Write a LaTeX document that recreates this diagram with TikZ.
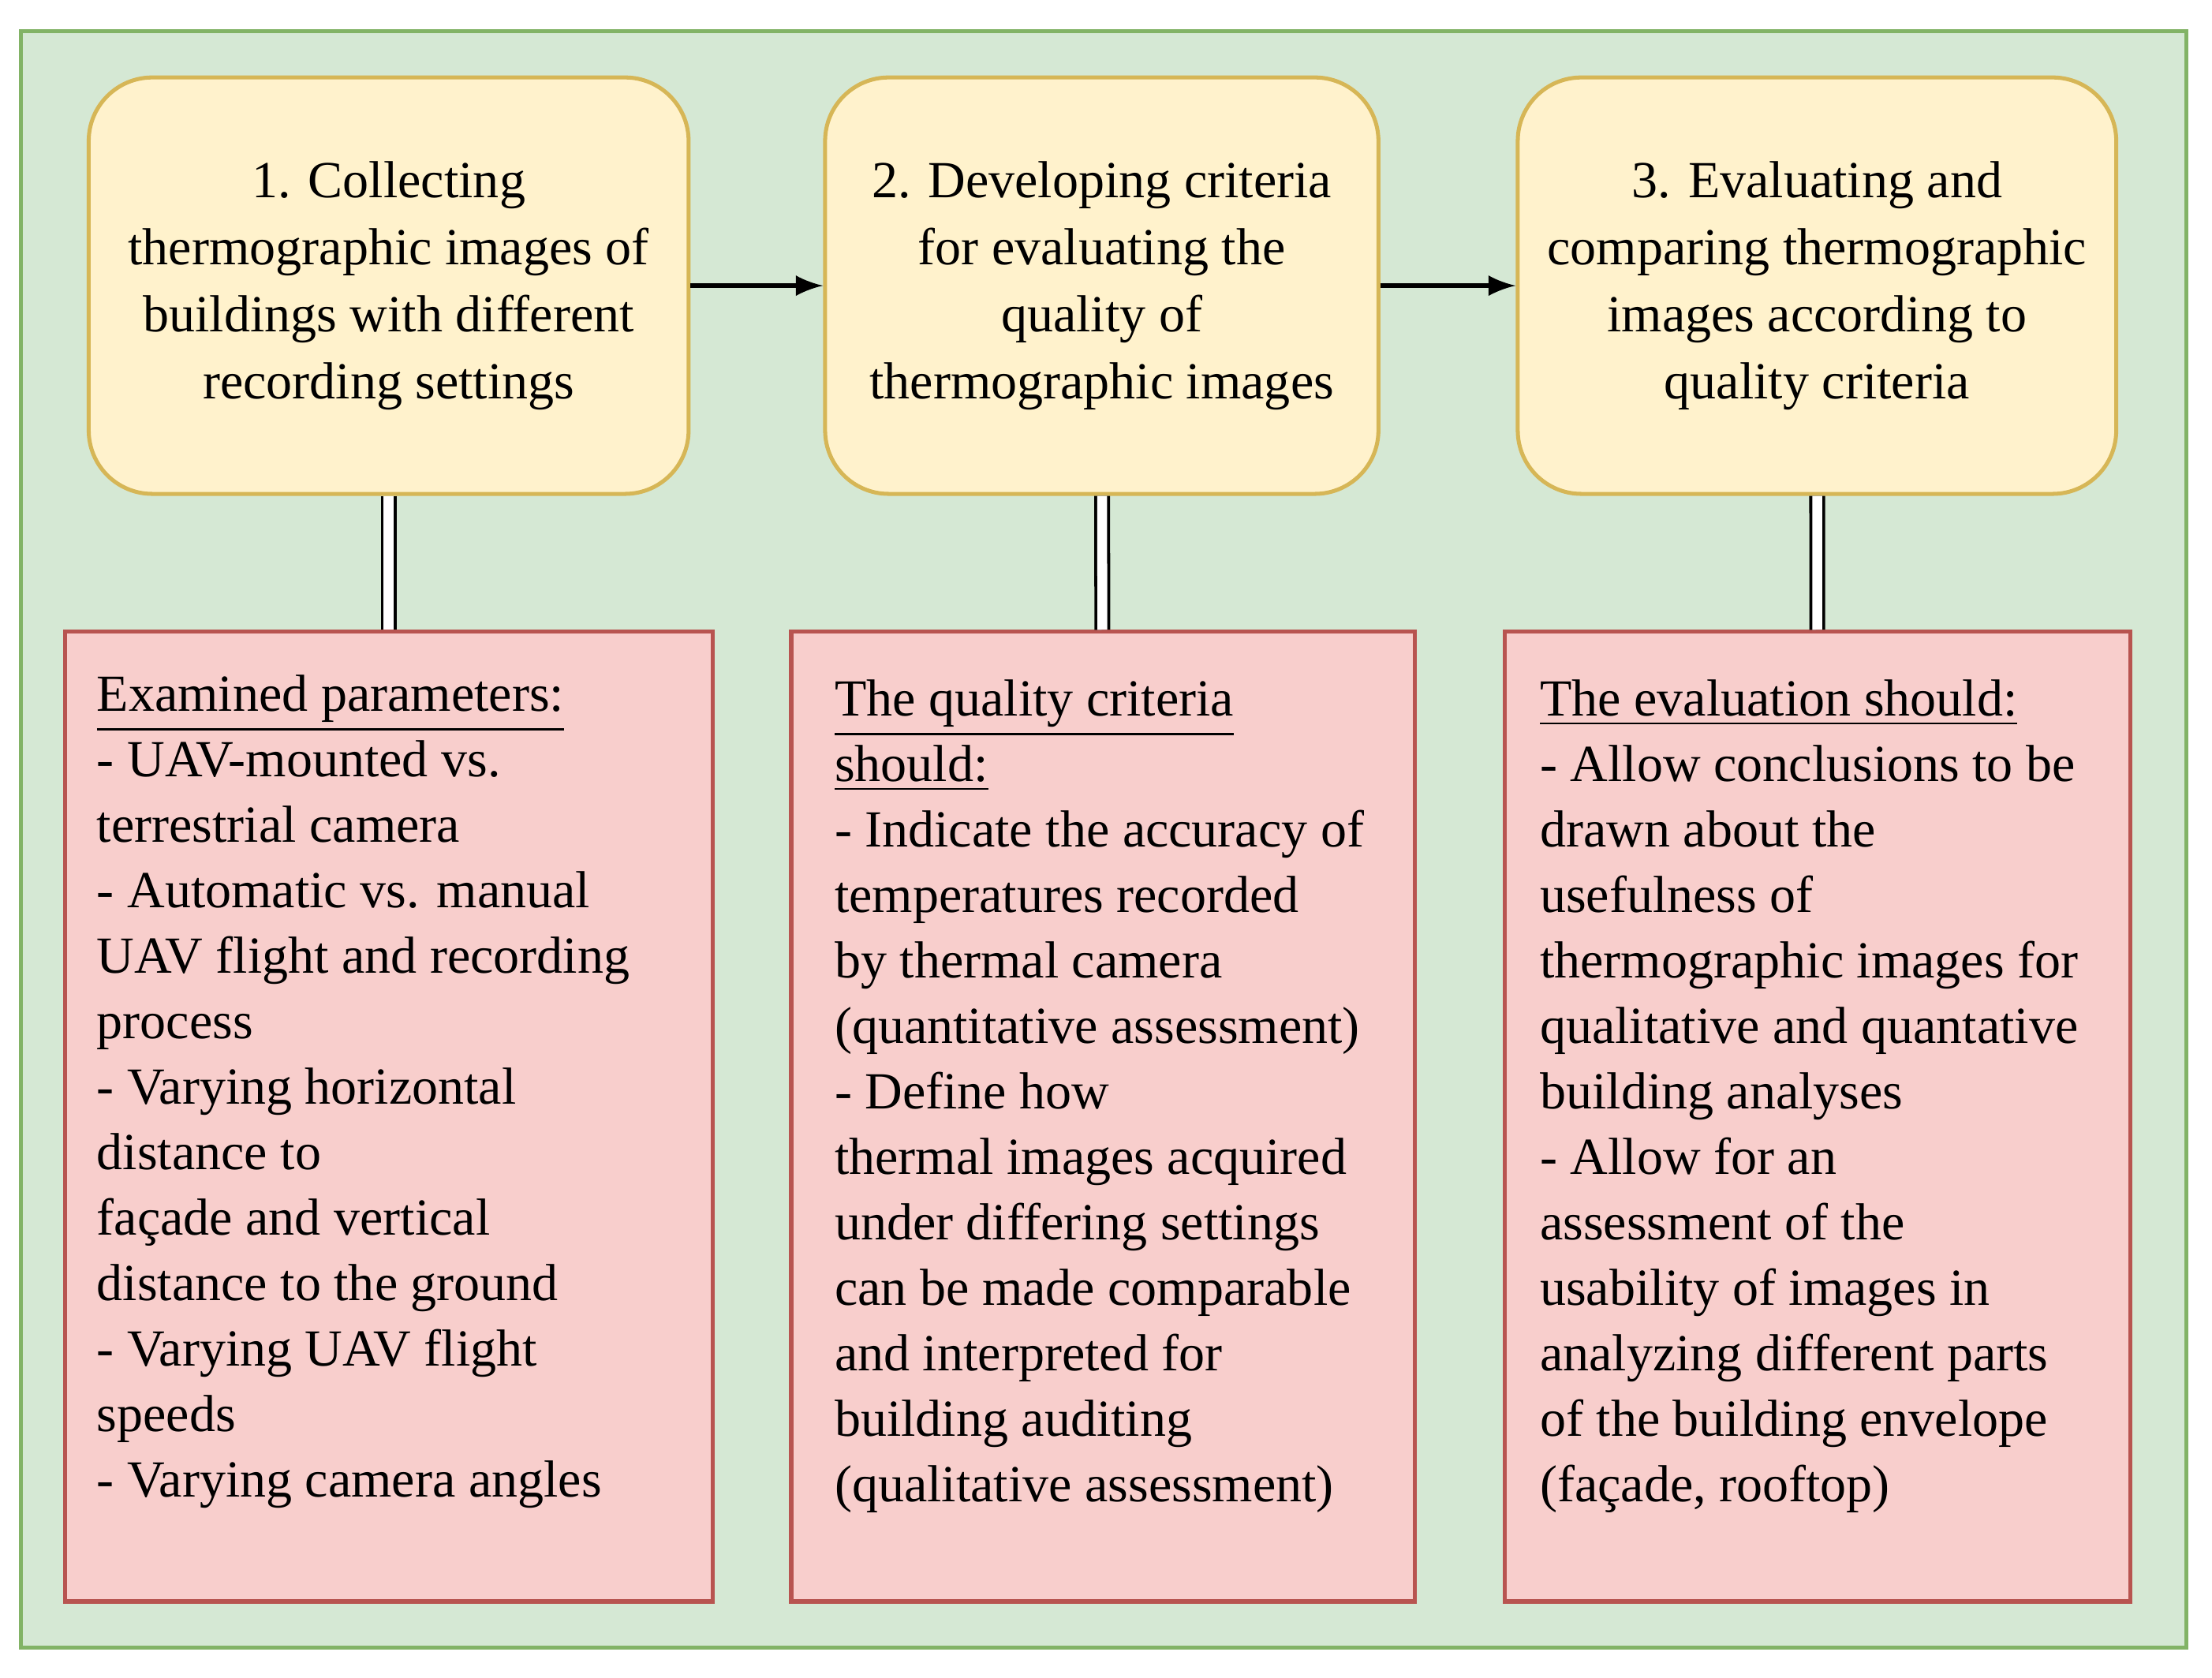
\documentclass[tikz,border=0pt]{standalone}
\usepackage{fontspec}
\setmainfont{Liberation Serif}
\definecolor{bgGreen}{HTML}{D5E8D4}
\definecolor{bgGreenLine}{HTML}{82B366}
\definecolor{stepFill}{HTML}{FFF2CC}
\definecolor{stepLine}{HTML}{D6B656}
\definecolor{noteFill}{HTML}{F8CECC}
\definecolor{noteLine}{HTML}{B85450}
\tikzstyle{phase}=[rectangle,rounded corners=0.45cm,draw=stepLine,fill=stepFill,line width=0.8pt,minimum height=2.95cm,align=center,font=\fontsize{10.5}{13.5}\selectfont]
\tikzstyle{note}=[rectangle,draw=noteLine,fill=noteFill,line width=0.8pt,minimum height=6.87cm]
\tikzstyle{noteText}=[anchor=north west,align=left,inner sep=0pt,font=\fontsize{10.5}{13.2}\selectfont]
\tikzstyle{link}=[double,double distance=0.07cm,line width=0.6pt]

\begin{document}
\begin{tikzpicture}[x=0.01cm,y=-0.01cm]
	\useasboundingbox (0,0) rectangle (1568,1189);
	\draw[bgGreenLine,fill=bgGreen,line width=0.8pt] (15,22) rectangle (1550,1168);

	% Schritte
	\node(phaseA) at (275.5,202.5) [phase,minimum width=4.25cm] {1. Collecting\\thermographic images of\\buildings with different\\recording settings};
	\node(phaseB) at (781,202.5) [phase,minimum width=3.92cm] {2. Developing criteria\\for evaluating the\\quality of\\thermographic images};
	\node(phaseC) at (1288,202.5) [phase,minimum width=4.24cm] {3. Evaluating and\\comparing thermographic\\images according to\\quality criteria};

	\draw[->,line width=0.9pt,>=latex] (phaseA) -- (phaseB);
	\draw[->,line width=0.9pt,>=latex] (phaseB) -- (phaseC);

	% Notizen
	\node(noteA) at (275.5,791.5) [note,minimum width=4.59cm] {};
	\node(noteB) at (782,791.5) [note,minimum width=4.42cm] {};
	\node(noteC) at (1288.5,791.5) [note,minimum width=4.43cm] {};

	\draw[link] (phaseA) -- (noteA);
	\draw[link] (phaseB) -- (noteB);
	\draw[link] (phaseC) -- (noteC);

	\node(textA) at (68,478) [noteText] {\underline{Examined parameters:}\\- UAV-mounted vs.\\terrestrial camera\\- Automatic vs. manual\\UAV flight and recording\\process\\- Varying horizontal\\distance to\\façade and vertical\\distance to the ground\\- Varying UAV flight\\speeds\\- Varying camera angles};
	\node(textB) at (591,481) [noteText] {\underline{The quality criteria}\\\underline{should:}\\- Indicate the accuracy of\\temperatures recorded\\by thermal camera\\(quantitative assessment)\\- Define how\\thermal images acquired\\under differing settings\\can be made comparable\\and interpreted for\\building auditing\\(qualitative assessment)};
	\node(textC) at (1091,481) [noteText] {\underline{The evaluation should:}\\- Allow conclusions to be\\drawn about the\\usefulness of\\thermographic images for\\qualitative and quantative\\building analyses\\- Allow for an\\assessment of the\\usability of images in\\analyzing different parts\\of the building envelope\\(façade, rooftop)};
\end{tikzpicture}
\end{document}
